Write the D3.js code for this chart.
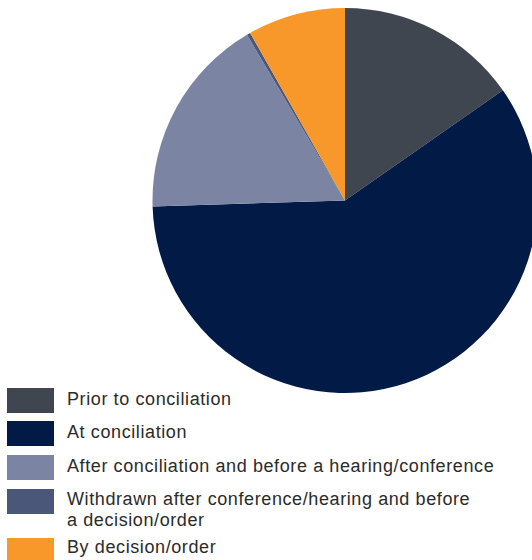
<!DOCTYPE html>
<html>
<head>
<meta charset="utf-8">
<script src="https://cdn.jsdelivr.net/npm/d3@7"></script>
<style>
  html, body { margin: 0; padding: 0; background: #ffffff; }
  svg { display: block; }
</style>
</head>
<body>
<svg id="chart" width="532" height="560"></svg>
<script>
// Finalisation stage of matters (share of total, %)
const categories = [
  "Prior to conciliation",
  "At conciliation",
  "After conciliation and before a hearing/conference",
  "Withdrawn after conference/hearing and before a decision/order",
  "By decision/order"
];
const legendLines = [
  ["Prior to conciliation"],
  ["At conciliation"],
  ["After conciliation and before a hearing/conference"],
  ["Withdrawn after conference/hearing and before", "a decision/order"],
  ["By decision/order"]
];
const values = [15.3, 59.2, 17.0, 0.3, 8.2];
const colors = ["#40464f", "#021b46", "#7b84a3", "#4b5779", "#f8982b"];

const svg = d3.select("#chart");
const cx = 345, cy = 200.5, r = 192.5;

const color = d3.scaleOrdinal().domain(categories).range(colors);
const pie = d3.pie().sort(null).value(d => d.value);
const arc = d3.arc().innerRadius(0).outerRadius(r);

const data = categories.map((c, i) => ({ name: c, value: values[i] }));

svg.append("g")
  .attr("transform", `translate(${cx},${cy})`)
  .selectAll("path")
  .data(pie(data))
  .join("path")
  .attr("d", arc)
  .attr("fill", d => color(d.data.name));

// Legend: swatch tops and first-line baselines
const rowTops = [388, 421, 455, 489, 538];
const baselines = [404.5, 438, 471.5, 505, 553];
const legend = svg.append("g");
const rows = legend.selectAll("g")
  .data(data)
  .join("g");

rows.append("rect")
  .attr("x", 7)
  .attr("y", (d, i) => rowTops[i])
  .attr("width", 47)
  .attr("height", 25)
  .attr("fill", d => color(d.name));

rows.append("text")
  .attr("font-family", "'Liberation Sans', Arial, sans-serif")
  .attr("font-size", 18)
  .attr("letter-spacing", 0.6)
  .attr("fill", "#2b2b2b")
  .each(function (d, i) {
    d3.select(this).selectAll("tspan")
      .data(legendLines[i])
      .join("tspan")
      .attr("x", 67)
      .attr("y", (t, j) => baselines[i] + j * 21)
      .text(t => t);
  });
</script>
</body>
</html>
